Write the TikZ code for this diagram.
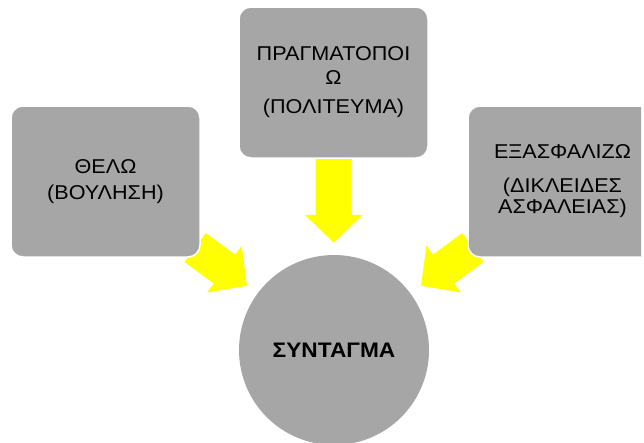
\documentclass[tikz,border=0pt]{standalone}
\usepackage{fontspec}
\setmainfont{Liberation Sans}[FakeStretch=1.08]
\usetikzlibrary{arrows.meta,backgrounds}
\definecolor{boxgrey}{HTML}{A6A6A6}
\definecolor{arrowyellow}{HTML}{FFFF00}
\tikzstyle{every node}=[inner sep=0pt,align=center,font=\fontsize{20}{24}\selectfont]
\tikzstyle{idea}=[rectangle,rounded corners=12pt,fill=boxgrey,draw=white,line width=1.5pt,
  minimum width=189pt,minimum height=151pt]
\tikzstyle{core}=[circle,fill=boxgrey,minimum size=190pt,font=\fontsize{21}{24}\selectfont\bfseries]
\tikzstyle{bigarrow}=[arrowyellow,line width=36pt,
  -{Triangle[length=28pt,width=58pt,line width=0pt]}]

\begin{document}
\begin{tikzpicture}[x=1pt,y=-1pt]
          \useasboundingbox (0,0) rectangle (644,442);
          \clip (0,0) rectangle (641,442);
          \node[core] (syntagma) at (334,350) {ΣΥΝΤΑΓΜΑ};
          \node[idea] (thelo) at (105.5,181.5) {ΘΕΛΩ\\[2pt](ΒΟΥΛΗΣΗ)};
          \node[idea] (pragma) at (333.5,82.5) {ΠΡΑΓΜΑΤΟΠΟΙ\\Ω\\[5pt](ΠΟΛΙΤΕΥΜΑ)};
          \node[idea] (asfalizo) at (562.5,181.5) {ΕΞΑΣΦΑΛΙΖΩ\\[10pt](ΔΙΚΛΕΙΔΕΣ\\[-3pt]ΑΣΦΑΛΕΙΑΣ)};
          \begin{scope}[on background layer]
            \fill[white] (0,0) rectangle (644,442);
            \draw[bigarrow,shorten <=-7pt,shorten >=13pt] (thelo) -- (syntagma);
            \draw[bigarrow,shorten >=12pt] (pragma) -- (syntagma);
            \draw[bigarrow,shorten <=-7pt,shorten >=13pt] (asfalizo) -- (syntagma);
          \end{scope}
        \end{tikzpicture}
\end{document}
